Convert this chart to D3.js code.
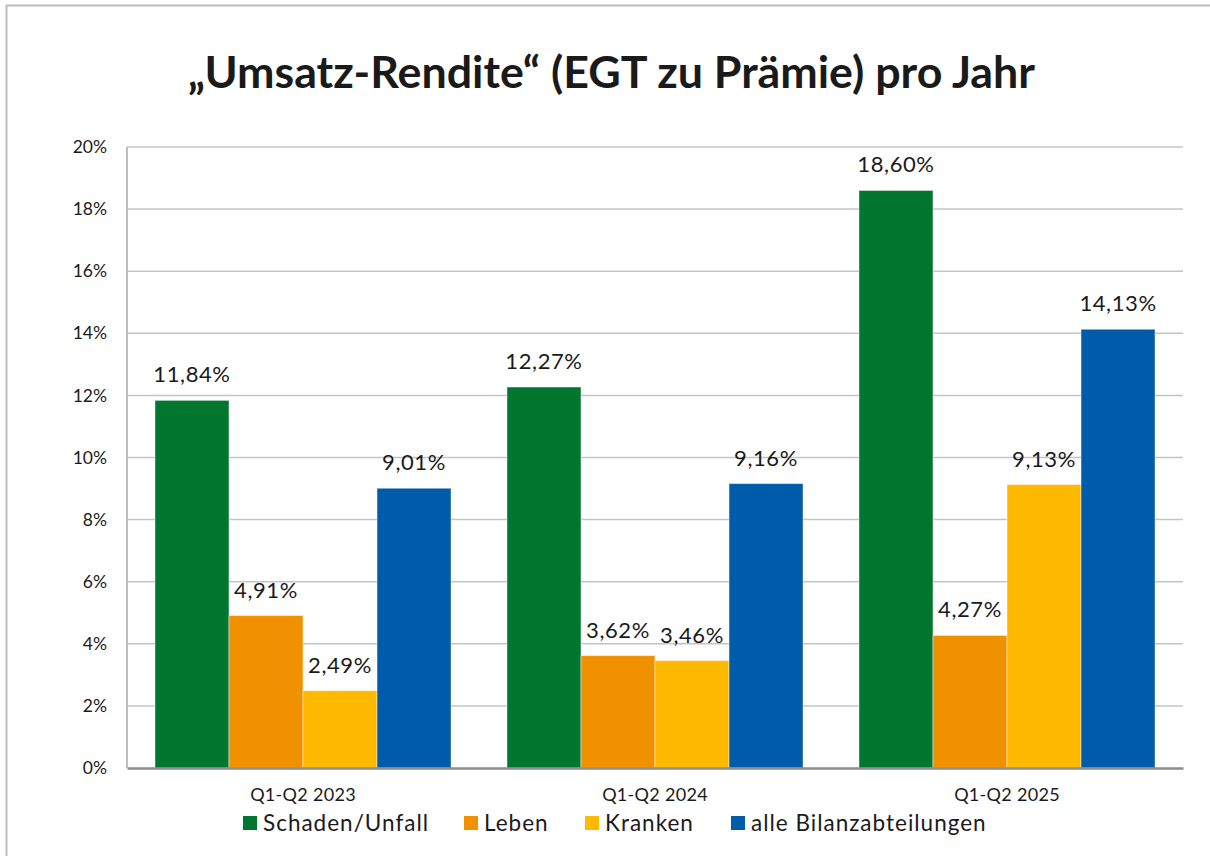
<!DOCTYPE html>
<html><head><meta charset="utf-8">
<script src="https://cdn.jsdelivr.net/npm/d3@7"></script>
<style>body{margin:0;background:#fff}svg{display:block}text{font-family:Lato,"Open Sans",sans-serif;fill:#1a1a1a}</style>
</head><body><svg id="c" width="1210" height="856"></svg>
<script>
const title = "„Umsatz-Rendite“ (EGT zu Prämie) pro Jahr";
const categories = ["Q1-Q2 2023","Q1-Q2 2024","Q1-Q2 2025"];
const seriesNames = ["Schaden/Unfall","Leben","Kranken","alle Bilanzabteilungen"];
const seriesColors = ["#02762F","#F29100","#FFB900","#005CAB"];
const schadenUnfall = [11.84,12.27,18.60];
const leben = [4.91,3.62,4.27];
const kranken = [2.49,3.46,9.13];
const alleBilanz = [9.01,9.16,14.13];
const yTicks = [0,2,4,6,8,10,12,14,16,18,20];

const seriesValues = [schadenUnfall, leben, kranken, alleBilanz];
const svg = d3.select("#c");
const W=1210,H=856;
const m={left:127,right:1183,top:147,bottom:768};

// chart frame
svg.append("line").attr("x1",6.5).attr("x2",6.5).attr("y1",5).attr("y2",H).attr("stroke","#BDBDBD").attr("stroke-width",2);
svg.append("line").attr("x1",6).attr("x2",W).attr("y1",5.5).attr("y2",5.5).attr("stroke","#BDBDBD").attr("stroke-width",2);

// title
const t = svg.append("text").attr("x",(188+1035)/2).attr("y",88).attr("text-anchor","middle")
  .style("font-size","43px").style("font-weight","700").text(title);
t.attr("textLength",847).attr("lengthAdjust","spacingAndGlyphs");

const y = d3.scaleLinear().domain([0,20]).range([m.bottom,m.top]);
const x0 = d3.scaleBand().domain(categories).range([m.left,m.right]).padding(0);
const x1 = d3.scaleBand().domain(seriesNames).range([0,x0.bandwidth()]).paddingInner(0).paddingOuter(0.378);

// grid
svg.append("g").selectAll("line").data(yTicks.filter(d=>d>0)).join("line")
  .attr("x1",m.left).attr("x2",m.right).attr("y1",d=>y(d)).attr("y2",d=>y(d))
  .attr("stroke","#C4C4C4").attr("stroke-width",1.5);
// y axis line
svg.append("line").attr("x1",m.left).attr("x2",m.left).attr("y1",m.top).attr("y2",m.bottom).attr("stroke","#BDBDBD").attr("stroke-width",2);

// y tick labels via axis
const yAxis = d3.axisLeft(y).tickValues(yTicks).tickFormat(d=>d+"%").tickSize(0).tickPadding(20);
const ya = svg.append("g").attr("transform",`translate(${m.left},0)`).call(yAxis);
ya.select(".domain").remove();
ya.selectAll("text").style("font-size","17.5px").style("font-family","Lato").attr("fill","#1a1a1a");

// bars
const data = [];
categories.forEach((c,i)=>seriesNames.forEach((s,j)=>data.push({c,s,j,v:seriesValues[j][i]})));
const g = svg.append("g");
g.selectAll("rect").data(data).join("rect")
  .attr("x",d=>x0(d.c)+x1(d.s)).attr("width",x1.bandwidth())
  .attr("y",d=>y(d.v)).attr("height",d=>y(0)-y(d.v))
  .attr("fill",d=>seriesColors[d.j]).attr("stroke","rgba(255,255,255,0.45)").attr("stroke-width",1);
g.selectAll("text").data(data).join("text")
  .attr("x",d=>x0(d.c)+x1(d.s)+x1.bandwidth()/2).attr("y",d=>y(d.v)-18)
  .attr("text-anchor","middle").style("font-size","22px").style("letter-spacing","0.6px")
  .text(d=>d.v.toFixed(2).replace(".",",")+"%");

// x axis
const xAxis = d3.axisBottom(x0).tickSize(0).tickPadding(20);
const xa = svg.append("g").attr("transform",`translate(0,${m.bottom})`).call(xAxis);
xa.select(".domain").attr("stroke","#8C8C8C").attr("stroke-width",2.5);
xa.selectAll("text").style("font-size","18px").style("font-family","Lato").style("letter-spacing","0.3px").attr("fill","#1a1a1a");

// legend
const legX = [243,464,585,731];
const lg = svg.append("g").selectAll("g").data(seriesNames).join("g")
  .attr("transform",(d,i)=>`translate(${legX[i]},816)`);
lg.append("rect").attr("width",14).attr("height",14).attr("fill",(d,i)=>seriesColors[i]);
lg.append("text").attr("x",20).attr("y",15).style("font-size","22.5px").style("letter-spacing","1px").text(d=>d);
</script></body></html>
